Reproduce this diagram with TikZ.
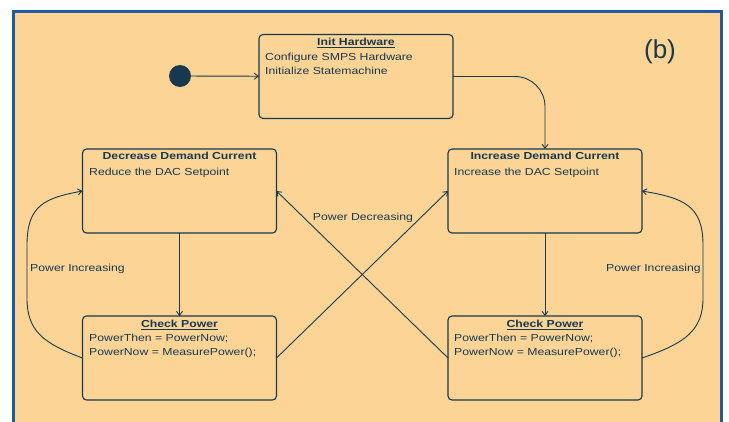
\documentclass[tikz,border=0pt]{standalone}
\usepackage{fontspec}
\setmainfont{Liberation Sans}[FakeStretch=1.2]
\newfontfamily\panelfont{Liberation Sans}
\usetikzlibrary{arrows.meta}
\definecolor{panelbg}{RGB}{252,213,150}
\definecolor{panelrule}{RGB}{30,92,160}
\definecolor{ink}{RGB}{22,56,80}
\tikzset{
  statebox/.style={draw=ink, line width=1.1pt, rounded corners=4pt, fill=panelbg,
    inner sep=0pt, outer sep=0pt, minimum width=194pt, minimum height=84pt},
  txt/.style={text=ink, inner sep=0pt, font=\fontsize{10.2}{12}\selectfont},
  title/.style={txt, anchor=base, font=\fontsize{10.2}{12}\selectfont\bfseries},
  body/.style={txt, anchor=base west},
  conn/.style={draw=ink, line width=0.9pt},
  arr/.style={conn, -{Straight Barb[length=4pt, width=6pt]}},
}
\begin{document}
\begin{tikzpicture}[x=1pt, y=-1pt]
\useasboundingbox (0,0) rectangle (729,421);
\fill[white] (0,0) rectangle (729,421);
% panel
\draw[panelrule, line width=3pt, fill=panelbg] (13.5,11) rectangle (721.5,440);
\node[text=ink, inner sep=0pt, font=\panelfont\fontsize{26}{30}\selectfont] (tag) at (660,52) {(b)};

% initial state
\node[circle, fill=ink, minimum size=22pt, inner sep=0pt] (start) at (180,76) {};

% states
\node[statebox] (init) at (356,76.5) {};
\node[title] (initT) at (356,45.5) {\underline{Init Hardware}};
\node[body] (initA) at (265,60.5) {Configure SMPS Hardware};
\node[body] (initB) at (265,74.5) {Initialize Statemachine};

\node[statebox] (dec) at (179.5,191) {};
\node[title] (decT) at (179.5,159.5) {Decrease Demand Current};
\node[body] (decA) at (89,175.5) {Reduce the DAC Setpoint};

\node[statebox] (inc) at (545,191) {};
\node[title] (incT) at (545,159.5) {Increase Demand Current};
\node[body] (incA) at (454,175.5) {Increase the DAC Setpoint};

\node[statebox] (chkL) at (179.5,358) {};
\node[title] (chkLT) at (179.5,327.5) {\underline{Check Power}};
\node[body] (chkLA) at (89,341.5) {PowerThen = PowerNow;};
\node[body] (chkLB) at (89,355.5) {PowerNow = MeasurePower();};

\node[statebox] (chkR) at (545,358) {};
\node[title] (chkRT) at (545,327.5) {\underline{Check Power}};
\node[body] (chkRA) at (454,341.5) {PowerThen = PowerNow;};
\node[body] (chkRB) at (454,355.5) {PowerNow = MeasurePower();};

% transitions
\draw[arr] (start) -- (init);
\draw[arr, rounded corners=30pt] (init.east) -| (inc.north);
\draw[arr] (dec) -- (chkL);
\draw[arr] (inc) -- (chkR);
\draw[arr] (chkL.east) -- (inc.west);
\draw[arr] (chkR.west) -- (dec.east);
\node[txt] (lblDec) at (363,218) {Power Decreasing};

\draw[arr] (chkL.west) .. controls (42,343) and (27,330) .. (27,298)
  -- (27,245) .. controls (27,205) and (45,198) .. (dec.west);
\node[txt, anchor=base west] (lblIncL) at (30,271.5) {Power Increasing};

\draw[arr] (chkR.east) .. controls (686,343) and (703,330) .. (703,298)
  -- (703,245) .. controls (703,205) and (683,198) .. (inc.east);
\node[txt, anchor=base east] (lblIncR) at (701,271.5) {Power Increasing};
\end{tikzpicture}
\end{document}
